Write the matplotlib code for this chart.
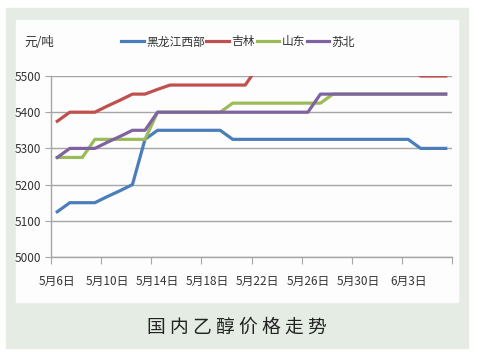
import matplotlib
matplotlib.use('Agg')
import matplotlib.pyplot as plt
import matplotlib.ticker as mticker
from matplotlib.patches import Rectangle
import numpy as np
import pandas as pd

plt.rcParams['font.family'] = ['Liberation Sans Narrow', 'Noto Sans CJK SC', 'DejaVu Sans']

# catégories : un point par jour, du 6 mai au 6 juin
jours = pd.date_range('2020-05-06', '2020-06-06', freq='D')
dates = [f"{d.month}月{d.day}日" for d in jours]

heilongjiang = [5125, 5150, 5150, 5150, 5167, 5183, 5200, 5325,
                5350, 5350, 5350, 5350, 5350, 5350,
                5325, 5325, 5325, 5325, 5325, 5325, 5325, 5325, 5325, 5325,
                5325, 5325, 5325, 5325, 5325,
                5300, 5300, 5300]
jilin = [5375, 5400, 5400, 5400, 5417, 5433, 5450, 5450, 5463,
         5475, 5475, 5475, 5475, 5475, 5475, 5475,
         5525, 5525, 5525, 5525, 5525, 5525, 5525, 5525, 5525, 5525,
         5525, 5525, 5525,
         5500, 5500, 5500]
shandong = [5275, 5275, 5275,
            5325, 5325, 5325, 5325, 5325,
            5400, 5400, 5400, 5400, 5400, 5400,
            5425, 5425, 5425, 5425, 5425, 5425, 5425, 5425,
            5450, 5450, 5450, 5450, 5450, 5450, 5450, 5450, 5450, 5450]
subei = [5275, 5300, 5300, 5300, 5317, 5333, 5350, 5350,
         5400, 5400, 5400, 5400, 5400, 5400, 5400, 5400, 5400, 5400,
         5400, 5400, 5400,
         5450, 5450, 5450, 5450, 5450, 5450, 5450, 5450, 5450, 5450, 5450]

series = [
    ('黑龙江西部', heilongjiang, '#4a7ebb'),
    ('吉林', jilin, '#c0504d'),
    ('山东', shandong, '#9bbb59'),
    ('苏北', subei, '#7f63a1'),
]
yticks = [5000, 5100, 5200, 5300, 5400, 5500]

W, H = 479, 359
fig = plt.figure(figsize=(W / 100, H / 100), dpi=100)
fig.set_facecolor('white')

# cadre vert et panneau blanc
fig.patches.append(Rectangle((6 / W, 1 - 348 / H), 462 / W, 340 / H,
                             transform=fig.transFigure, color='#e4ece3', zorder=-2))
fig.patches.append(Rectangle((16 / W, 1 - 302 / H), 442 / W, 282 / H,
                             transform=fig.transFigure, color='#fdfdfd', zorder=-1))

ax = fig.add_axes([51 / W, 1 - 257 / H, 401 / W, 181 / H])
ax.set_zorder(2)
ax.set_facecolor('none')

x = np.arange(len(dates)) + 0.5
for nom, vals, c in series:
    ax.plot(x, vals, color=c, lw=2.3, label=nom, solid_joinstyle='round', zorder=3)

ax.set_xlim(0, len(dates))
ax.set_ylim(5000, 5500)
ax.set_yticks(yticks)
ax.yaxis.grid(True, color='#a6a6a6', lw=1)
ax.set_axisbelow(True)

# graduations aux limites des catégories, étiquettes au centre
ax.set_xticks(np.arange(0, len(dates) + 1, 4))
ax.set_xticklabels([])
ax.xaxis.set_minor_locator(mticker.FixedLocator(x[::4]))
ax.xaxis.set_minor_formatter(mticker.FixedFormatter(dates[::4]))
ax.tick_params(axis='x', which='major', length=5, color='#a6a6a6', direction='out')
ax.tick_params(axis='x', which='minor', length=0, pad=13, labelsize=8.5, colors='#333333')
ax.tick_params(axis='y', length=4, color='#a6a6a6', pad=3, labelsize=8.5, labelcolor='#333333')

for s in ['top', 'right']:
    ax.spines[s].set_visible(False)
for s in ['left', 'bottom']:
    ax.spines[s].set_color('#a6a6a6')
    ax.spines[s].set_linewidth(1)

fig.text(24 / W, 1 - 42 / H, '元/吨', fontsize=9, color='#333333', va='center')
fig.legend(loc='center', bbox_to_anchor=(238 / W, 1 - 42 / H), ncol=4, frameon=False,
           fontsize=8.5, handlelength=1.9, handletextpad=0.2, columnspacing=0.15,
           labelcolor='#333333')

fig.text(237 / W, 1 - 327 / H, '国 内 乙 醇 价 格 走 势', fontsize=13.5,
         ha='center', va='center', color='#222222',
         family=['Noto Sans CJK SC', 'DejaVu Sans'])

fig.savefig('out.png', dpi=100)
